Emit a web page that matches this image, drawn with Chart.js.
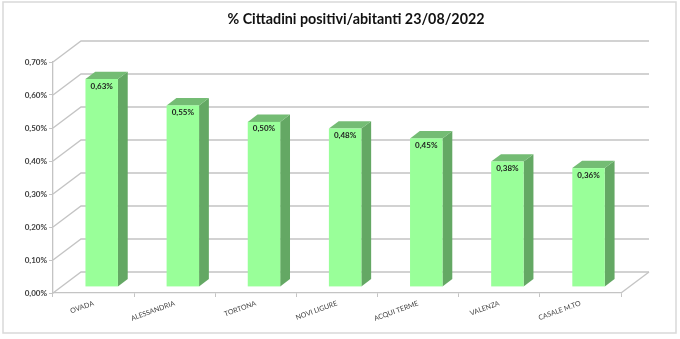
<!DOCTYPE html>
<html>
<head>
<meta charset="utf-8">
<script src="https://cdn.jsdelivr.net/npm/chart.js@4/dist/chart.umd.min.js"></script>
<style>
  html, body { margin: 0; padding: 0; background: #ffffff; }
  canvas { display: block; }
</style>
</head>
<body>
<canvas id="c" width="680" height="339"></canvas>
<script>
// ---- data ----
const categories = ['OVADA', 'ALESSANDRIA', 'TORTONA', 'NOVI LIGURE', 'ACQUI TERME', 'VALENZA', 'CASALE M.TO'];
const values = [0.63, 0.55, 0.50, 0.48, 0.45, 0.38, 0.36];
const yMin = 0;
const yMax = 0.7;
const yStep = 0.1;
const titleText = '% Cittadini positivi/abitanti 23/08/2022';

// ---- styles ----
const DEPTH = { dx: 28, dy: -21 };
const BAR_FRONT = 0.29, BAR_BACK = 0.64;
const GRID_COLOR = '#C4C4C4';
const FRONT_COLOR = '#99FF99';
const SIDE_COLOR = '#64A864';
const TOP_COLOR = '#74BC74';

function fmt(v) { return v.toFixed(2).replace('.', ',') + '%'; }

const frame3d = {
  id: 'frame3d',
  beforeDraw(chart) {
    const ctx = chart.ctx;
    ctx.save();
    ctx.fillStyle = '#ffffff';
    ctx.fillRect(0, 0, chart.width, chart.height);
    ctx.strokeStyle = '#D9D9D9';
    ctx.lineWidth = 1.5;
    ctx.strokeRect(3, 2, 673, 331);
    // title
    ctx.fillStyle = '#111111';
    ctx.font = 'bold 14.3px Lato';
    ctx.textAlign = 'center';
    ctx.textBaseline = 'middle';
    ctx.fillText(titleText, 356, 19);
    ctx.restore();
  },
  beforeDatasetsDraw(chart) {
    const ctx = chart.ctx, a = chart.chartArea, ys = chart.scales.y;
    ctx.save();
    ctx.strokeStyle = GRID_COLOR;
    ctx.lineWidth = 1.3;
    ys.ticks.forEach(t => {
      const py = ys.getPixelForValue(t.value);
      ctx.beginPath();
      ctx.moveTo(a.left, py);
      ctx.lineTo(a.left + DEPTH.dx, py + DEPTH.dy);
      ctx.lineTo(a.right + DEPTH.dx, py + DEPTH.dy);
      ctx.stroke();
    });
    ctx.beginPath();
    ctx.moveTo(a.right, a.bottom);
    ctx.lineTo(a.right + DEPTH.dx, a.bottom + DEPTH.dy);
    ctx.stroke();
    ctx.restore();
  },
  afterDatasetsDraw(chart) {
    const ctx = chart.ctx;
    const meta = chart.getDatasetMeta(0);
    const fx = DEPTH.dx * BAR_FRONT, fy = DEPTH.dy * BAR_FRONT;
    const sx = DEPTH.dx * (BAR_BACK - BAR_FRONT), sy = DEPTH.dy * (BAR_BACK - BAR_FRONT);
    ctx.save();
    meta.data.forEach((el, i) => {
      const p = el.getProps(['x', 'y', 'base', 'width'], true);
      const l = p.x - p.width / 2 + fx, r = p.x + p.width / 2 + fx;
      const t = p.y + fy, b = p.base + fy;
      // side
      ctx.fillStyle = SIDE_COLOR;
      ctx.beginPath();
      ctx.moveTo(r, t); ctx.lineTo(r + sx, t + sy); ctx.lineTo(r + sx, b + sy); ctx.lineTo(r, b);
      ctx.closePath(); ctx.fill();
      // top
      ctx.fillStyle = TOP_COLOR;
      ctx.beginPath();
      ctx.moveTo(l, t); ctx.lineTo(l + sx, t + sy); ctx.lineTo(r + sx, t + sy); ctx.lineTo(r, t);
      ctx.closePath(); ctx.fill();
      // front
      ctx.fillStyle = FRONT_COLOR;
      ctx.fillRect(l, t, r - l, b - t);
      // label
      ctx.fillStyle = '#1E1E1E';
      ctx.font = 'bold 8px Lato';
      ctx.textAlign = 'center';
      ctx.textBaseline = 'middle';
      ctx.fillText(fmt(values[i]), (l + r) / 2, t + 7);
    });
    ctx.restore();
  }
};

new Chart(document.getElementById('c'), {
  type: 'bar',
  data: {
    labels: categories,
    datasets: [{
      data: values,
      backgroundColor: 'rgba(0,0,0,0)',
      borderWidth: 0,
      barPercentage: 0.4,
      categoryPercentage: 1.0
    }]
  },
  options: {
    responsive: false,
    animation: false,
    devicePixelRatio: 1,
    layout: { padding: { left: 0, right: 59, top: 62, bottom: 0 } },
    plugins: {
      legend: { display: false },
      tooltip: { enabled: false },
      title: { display: false }
    },
    scales: {
      x: {
        afterFit(s) { s.height = 46; },
        grid: { display: true, drawOnChartArea: false, drawTicks: true, tickLength: 4, color: GRID_COLOR, offset: true },
        border: { display: true, color: GRID_COLOR, width: 1.3 },
        ticks: {
          autoSkip: false, minRotation: 20, maxRotation: 20, padding: 2,
          color: '#404040', font: { family: 'Lato', size: 7 }
        }
      },
      y: {
        min: yMin, max: yMax,
        afterFit(s) { s.width = 53; },
        grid: { display: true, drawOnChartArea: false, drawTicks: true, tickLength: 4, color: GRID_COLOR },
        border: { display: true, color: GRID_COLOR, width: 1.3 },
        ticks: {
          stepSize: yStep, padding: 2,
          color: '#404040', font: { family: 'Lato', size: 8, weight: 'bold' },
          callback: v => fmt(v)
        }
      }
    }
  },
  plugins: [frame3d]
});
</script>
</body>
</html>
